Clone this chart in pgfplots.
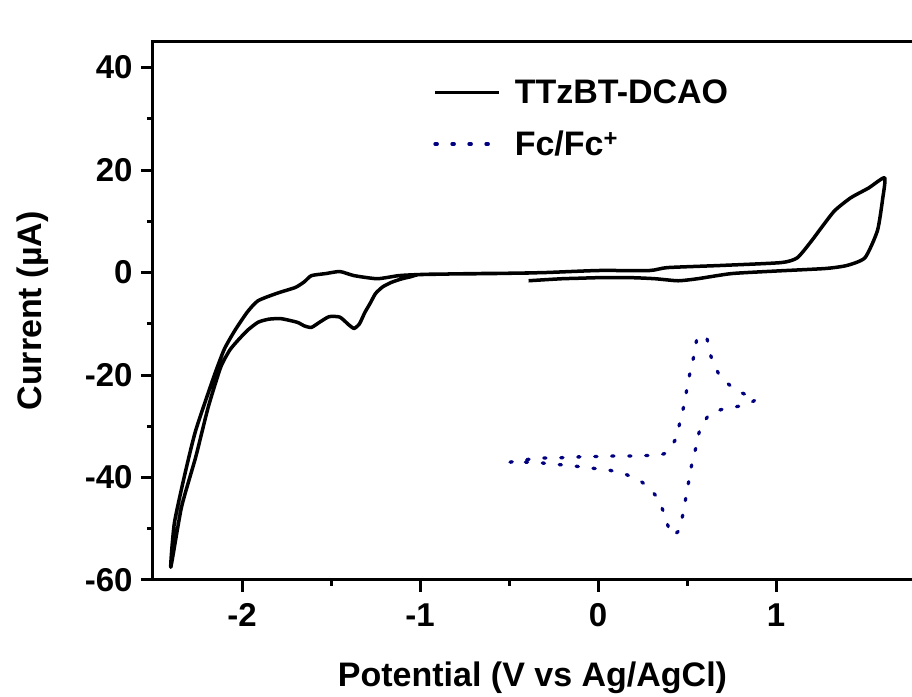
\documentclass[border=0pt]{standalone}
\usepackage{pgfplots}
\pgfplotsset{compat=1.18}
\usepackage{fontspec}
\setmainfont{Liberation Sans}
\definecolor{fcnavy}{RGB}{0,0,128}
\begin{document}
\begin{tikzpicture}
\begin{axis}[
  scale only axis,
  width=759pt, height=538pt,
  xmin=-2.5, xmax=1.764,
  ymin=-60, ymax=45,
  clip=false,
  axis x line*=bottom,
  axis y line*=left,
  axis line style={line width=3pt, line cap=rect},
  xtick={-2,-1,0,1},
  ytick={-60,-40,-20,0,20,40},
  minor x tick num=1,
  minor y tick num=1,
  tick align=outside,
  major tick length=12pt,
  minor tick length=6pt,
  every tick/.style={line width=3pt, black},
  /pgf/number format/assume math mode=true,
  tick label style={font=\fontsize{33}{39}\selectfont\bfseries},
  xticklabel style={yshift=-8pt},
  yticklabel style={xshift=-5pt},
  xlabel={Potential (V vs Ag/AgCl)},
  ylabel={Current (\textmu A)},
  label style={font=\fontsize{34}{40}\selectfont\bfseries},
  x label style={at={([yshift=-107pt]axis description cs:0.5,0)}, anchor=base},
  y label style={at={([xshift=-111pt]axis description cs:0,0.5)}, anchor=base},
  legend style={draw=none, fill=none, at={(axis description cs:0.369,0.934)}, anchor=north west,
    font=\fontsize{34}{40}\selectfont\bfseries, inner sep=0pt, row sep=22pt},
  legend image code/.code={\draw[#1] (0pt,0pt) -- (64pt,0pt); \path (76pt,0pt);},
  legend cell align=left,
]
\addplot[black, line width=3.5pt, smooth, tension=0.35, line join=round] coordinates {
(-0.39,-1.6) (-0.30,-1.4) (-0.20,-1.2) (-0.10,-1.1) (0.00,-1.0) (0.19,-1.0) (0.32,-1.2)
(0.45,-1.6) (0.56,-1.2) (0.75,-0.2) (1.00,0.3) (1.28,0.8) (1.40,1.4) (1.50,2.9) (1.57,8.2)
(1.60,14.6) (1.61,18.5) (1.52,16.5) (1.42,14.6) (1.33,12.1) (1.26,9.0) (1.20,6.2) (1.12,2.9)
(1.03,1.95) (0.70,1.4) (0.39,0.97) (0.29,0.4) (0.00,0.4) (-0.30,0.0) (-0.60,-0.2) (-0.90,-0.3)
(-1.01,-0.4) (-1.05,-0.8) (-1.10,-1.2) (-1.16,-1.9) (-1.21,-2.8) (-1.25,-4.1) (-1.28,-6.0)
(-1.31,-7.8) (-1.34,-10.0) (-1.37,-10.9) (-1.40,-10.2) (-1.45,-8.7) (-1.51,-8.6) (-1.56,-9.6)
(-1.61,-10.7) (-1.65,-10.4) (-1.69,-9.7) (-1.78,-9.0) (-1.85,-9.1) (-1.91,-9.7) (-1.97,-11.3)
(-2.03,-13.5) (-2.07,-15.2) (-2.12,-18.5) (-2.19,-26.3) (-2.26,-36.0) (-2.34,-45.8) (-2.40,-57.5)
(-2.38,-48.9) (-2.32,-39.2) (-2.26,-30.8) (-2.16,-20.5) (-2.10,-15.0) (-2.04,-11.3) (-1.97,-7.7)
(-1.91,-5.5) (-1.80,-4.0) (-1.70,-2.9) (-1.65,-1.8) (-1.61,-0.6) (-1.53,-0.2) (-1.45,0.2)
(-1.37,-0.6) (-1.24,-1.2) (-1.12,-0.6) (-1.01,-0.4) (-0.70,-0.2) (-0.39,-0.1)
};
\addlegendentry{TTzBT-DCAO}
\addplot[fcnavy, line width=3.3pt, line cap=round, dash pattern=on 2.2pt off 14.8pt, smooth, tension=0.3] coordinates {
(-0.494,-37.0) (-0.42,-36.6) (-0.33,-36.2) (-0.24,-36.2) (-0.14,-36.0) (0.00,-35.9) (0.10,-35.8)
(0.19,-35.8) (0.28,-35.7) (0.376,-35.3) (0.438,-32.4) (0.46,-29.2) (0.483,-25.9) (0.50,-22.6)
(0.517,-19.5) (0.539,-16.2) (0.556,-12.9) (0.584,-12.2) (0.612,-12.9) (0.635,-16.4) (0.69,-20.5)
(0.79,-23.2) (0.888,-24.7) (0.82,-25.9) (0.72,-26.5) (0.63,-27.5) (0.573,-30.6) (0.551,-34.0)
(0.528,-37.2) (0.511,-40.5) (0.494,-43.8) (0.478,-47.0) (0.455,-50.3) (0.42,-51.3) (0.404,-50.6)
(0.371,-47.0) (0.331,-43.8) (0.247,-40.9) (0.157,-39.4) (0.067,-38.6) (-0.028,-38.2)
(-0.124,-37.8) (-0.213,-37.5) (-0.303,-37.2) (-0.404,-37.0) (-0.494,-37.0)
};
\addlegendentry{Fc/Fc\textsuperscript{+}}
\draw[line width=3pt, line cap=rect] (rel axis cs:0,1) -- (rel axis cs:1,1);
\end{axis}
\pgfresetboundingbox
\path[use as bounding box] ([shift={(-153pt,-117pt)}]current axis.south west) rectangle ([shift={(0pt,42pt)}]current axis.north east);
\end{tikzpicture}
\end{document}
